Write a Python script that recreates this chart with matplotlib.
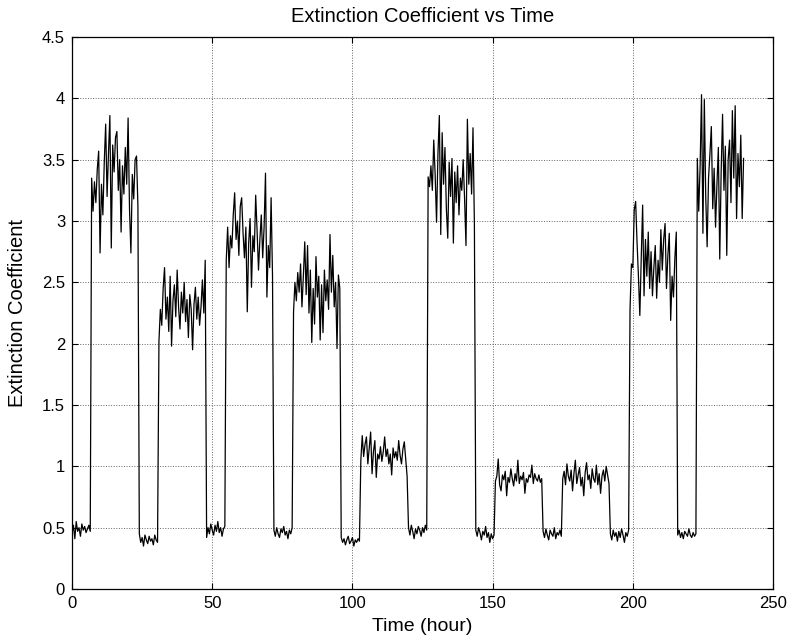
import matplotlib
matplotlib.use("Agg")
import matplotlib.pyplot as plt
import numpy as np

# sample step (hours) and segment start times
step = 0.5
low_starts = [0, 24, 48, 72, 96, 120, 144, 168, 192, 216]
high_starts = [7, 31, 55, 79, 103, 127, 151, 175, 199, 223]

# values, one list per segment
low_vals = [
    [0.45, 0.52, 0.41, 0.55, 0.47, 0.50, 0.43, 0.53, 0.48, 0.51, 0.46, 0.49, 0.52, 0.47],
    [0.45, 0.38, 0.42, 0.35, 0.44, 0.40, 0.37, 0.43, 0.39, 0.41, 0.36, 0.44, 0.40, 0.38],
    [0.42, 0.50, 0.45, 0.53, 0.48, 0.44, 0.52, 0.47, 0.55, 0.46, 0.50, 0.43, 0.49, 0.51],
    [0.48, 0.43, 0.50, 0.45, 0.42, 0.49, 0.46, 0.51, 0.44, 0.47, 0.41, 0.48, 0.45, 0.50],
    [0.42, 0.38, 0.41, 0.36, 0.40, 0.43, 0.37, 0.39, 0.42, 0.35, 0.40, 0.38, 0.41, 0.39],
    [0.50, 0.44, 0.52, 0.47, 0.41, 0.49, 0.45, 0.51, 0.48, 0.43, 0.50, 0.46, 0.52, 0.48],
    [0.48, 0.43, 0.50, 0.46, 0.40, 0.47, 0.44, 0.51, 0.42, 0.46, 0.38, 0.45, 0.41, 0.44],
    [0.47, 0.42, 0.49, 0.44, 0.40, 0.48, 0.45, 0.43, 0.50, 0.41, 0.46, 0.44, 0.48, 0.43],
    [0.45, 0.40, 0.48, 0.43, 0.46, 0.39, 0.47, 0.42, 0.49, 0.44, 0.38, 0.46, 0.43, 0.48],
    [0.44, 0.48, 0.42, 0.46, 0.41, 0.47, 0.45, 0.43, 0.49, 0.44, 0.42, 0.46, 0.43, 0.45],
]

high_vals = [
    [3.35, 3.08, 3.32, 3.15, 3.42, 3.57, 2.74, 3.30, 3.05, 3.48,
     3.79, 3.20, 3.55, 3.86, 2.78, 3.62, 3.40, 3.68, 3.73, 3.25,
     3.50, 2.91, 3.45, 3.22, 3.60, 3.30, 3.84, 3.10, 2.74, 3.38,
     3.18, 3.50, 3.53, 3.12],
    [2.02, 2.28, 2.15, 2.45, 2.62, 2.20, 2.38, 2.10, 2.55, 1.98,
     2.35, 2.48, 2.22, 2.60, 2.30, 2.12, 2.42, 2.25, 2.50, 2.18,
     2.36, 2.05, 2.40, 2.28, 1.95, 2.32, 2.46, 2.20, 2.38, 2.15,
     2.30, 2.52, 2.25, 2.68],
    [2.68, 2.95, 2.62, 2.88, 2.78, 3.05, 3.23, 2.85, 3.00, 2.72,
     3.12, 3.19, 2.90, 2.70, 2.95, 2.26, 2.82, 3.02, 2.46, 2.88,
     2.75, 3.21, 2.92, 2.60, 2.85, 3.05, 2.70, 2.95, 3.39, 2.38,
     2.80, 2.62, 3.19, 2.55],
    [2.26, 2.50, 2.35, 2.58, 2.42, 2.65, 2.30, 2.55, 2.83, 2.40,
     2.80, 2.25, 2.60, 2.01, 2.45, 2.16, 2.71, 2.38, 2.55, 2.03,
     2.48, 2.09, 2.60, 2.35, 2.52, 2.28, 2.89, 2.42, 2.72, 2.30,
     2.50, 1.96, 2.56, 2.45],
    [1.05, 1.25, 1.08, 1.18, 1.24, 1.02, 1.15, 1.28, 0.94, 1.12,
     1.21, 0.91, 1.10, 1.06, 1.16, 1.04, 1.12, 1.24, 1.08, 1.14,
     1.02, 1.10, 0.93, 1.15, 1.07, 1.12, 1.05, 1.21, 1.09, 1.02,
     1.14, 1.20, 1.06, 0.92],
    [3.36, 3.28, 3.45, 3.25, 3.66, 3.38, 2.99, 3.55, 3.86, 2.89,
     3.72, 3.30, 3.60, 3.10, 2.86, 3.48, 3.20, 3.51, 2.82, 3.40,
     3.15, 3.45, 3.05, 3.35, 3.25, 3.50, 3.18, 2.80, 3.83, 3.30,
     3.55, 3.22, 3.76, 2.97],
    [0.88, 0.92, 1.06, 0.85, 0.80, 0.93, 0.89, 0.96, 0.76, 0.91,
     0.87, 0.98, 0.90, 0.84, 0.94, 0.88, 1.05, 0.86, 0.92, 0.89,
     0.95, 0.78, 0.90, 0.87, 0.93, 0.91, 1.01, 0.86, 0.94, 0.90,
     0.88, 0.93, 0.87, 0.90],
    [0.90, 0.96, 0.85, 1.02, 0.92, 0.88, 0.97, 0.80, 0.94, 1.05,
     0.86, 0.93, 0.99, 0.84, 0.91, 0.76, 0.95, 1.03, 0.89, 0.93,
     0.82, 0.98, 0.90, 0.87, 1.01, 0.85, 0.94, 0.78, 0.92, 0.97,
     0.88, 1.00, 0.93, 0.86],
    [2.28, 2.65, 2.62, 3.09, 3.16, 2.83, 2.55, 2.23, 2.70, 3.13,
     2.39, 2.85, 2.55, 2.91, 2.45, 2.75, 2.39, 2.62, 2.80, 2.37,
     2.68, 2.50, 2.93, 2.60, 2.85, 2.98, 2.45, 2.72, 2.90, 2.19,
     2.55, 2.38, 2.70, 2.91],
    [3.51, 3.08, 3.45, 4.03, 2.90, 3.99, 3.20, 2.79, 3.35, 3.55,
     3.77, 3.10, 3.43, 2.95, 3.30, 3.60, 2.69, 3.40, 3.87, 3.25,
     3.61, 2.72, 3.50, 3.66, 3.15, 3.90, 3.35, 3.94, 3.02, 3.55,
     3.28, 3.70, 3.02, 3.51],
]

xtick_vals = [0, 50, 100, 150, 200, 250]
ytick_vals = [0, 0.5, 1, 1.5, 2, 2.5, 3, 3.5, 4, 4.5]
ytick_labels = ['0', '0.5', '1', '1.5', '2', '2.5', '3', '3.5', '4', '4.5']

# build one time series from the segments
t_list = []
v_list = []
for k in range(len(low_starts)):
    for start, vals in ((low_starts[k], low_vals[k]), (high_starts[k], high_vals[k])):
        for i, v in enumerate(vals):
            t_list.append(start + step * i)
            v_list.append(v)
time_arr = np.asarray(t_list)
coef_arr = np.asarray(v_list)

plt.rcParams['font.family'] = ['Liberation Sans', 'DejaVu Sans']

fig = plt.figure(figsize=(7.88, 6.44), dpi=100)
ax = fig.add_axes([0.0914, 0.0854, 0.8896, 0.8571])

ax.plot(time_arr, coef_arr, '-', color='black', linewidth=0.9)

ax.set_xlim(0, 250)
ax.set_ylim(0, 4.5)
ax.set_xticks(xtick_vals)
ax.set_yticks(ytick_vals)
ax.set_yticklabels(ytick_labels)
ax.grid(True, linestyle=':', color='#666666', linewidth=0.7)
ax.tick_params(direction='in', top=True, right=True, length=4, width=0.8,
               labelsize=12, pad=5)
for sp in ax.spines.values():
    sp.set_linewidth(0.9)

ax.set_title('Extinction Coefficient vs Time', fontsize=14.5, pad=11)
ax.set_xlabel('Time (hour)', fontsize=14, labelpad=5)
ax.set_ylabel('Extinction Coefficient', fontsize=14.5, labelpad=11)

fig.savefig('out.png', dpi=100)
